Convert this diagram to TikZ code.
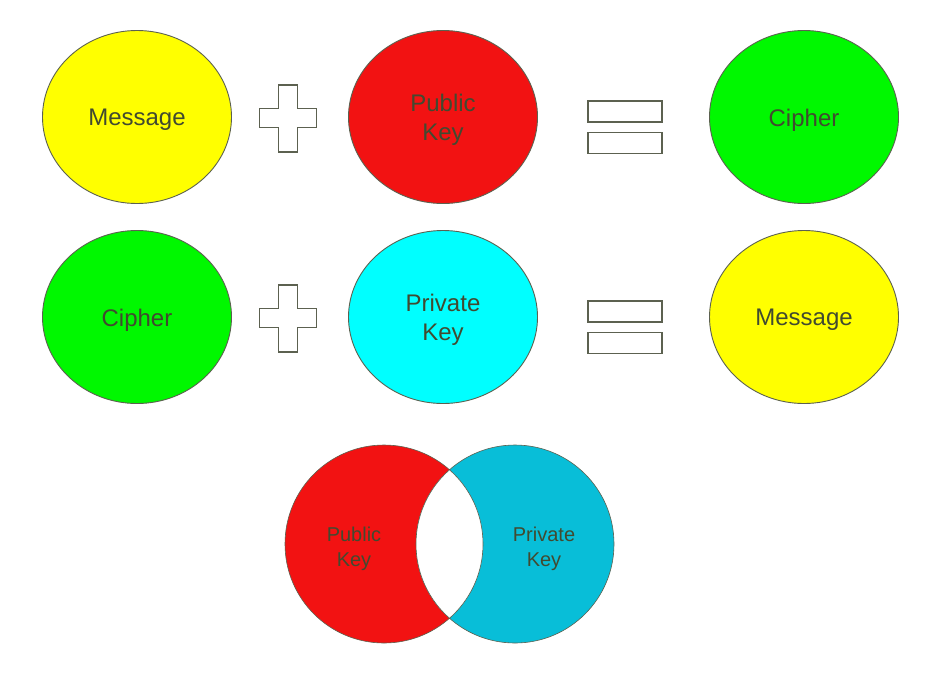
\documentclass[tikz,border=0pt]{standalone}
\usepackage{fontspec}
\setmainfont{Liberation Sans}
\usetikzlibrary{shapes.geometric}
\definecolor{msgyellow}{HTML}{FFFF00}
\definecolor{keyred}{HTML}{F21212}
\definecolor{ciphergreen}{HTML}{00F800}
\definecolor{keycyan}{HTML}{00FFFF}
\definecolor{keyblue}{HTML}{08BED8}
\definecolor{inkolive}{HTML}{414A30}
\definecolor{rimgray}{HTML}{5C6150}
\tikzset{disc/.style={draw=rimgray,ellipse,line width=0.9pt,minimum width=189pt,
    minimum height=173pt,inner sep=0pt},
  disctext/.style={text=inkolive,align=center,yshift=-3pt,
    font=\fontsize{24}{29}\selectfont},
  sign/.style={draw=rimgray,line width=1.2pt,fill=white},
  venn/.style={text=inkolive,align=center,font=\fontsize{20}{25}\selectfont}}

\begin{document}
\begin{tikzpicture}[x=1pt,y=-1pt]
  \useasboundingbox (0,0) rectangle (941,673);
  % row 1
  \node[disc,fill=msgyellow,label={[disctext]center:Message}] (M1) at (137,117) {};
  \node[disc,fill=keyred,label={[disctext]center:Public\\Key}] (P1) at (443,117) {};
  \node[disc,fill=ciphergreen,label={[disctext]center:Cipher}] (C1) at (804,117) {};
  % row 2
  \node[disc,fill=ciphergreen,label={[disctext]center:Cipher}] (C2) at (137,317) {};
  \node[disc,fill=keycyan,label={[disctext]center:Private\\Key}] (P2) at (443,317) {};
  \node[disc,fill=msgyellow,label={[disctext]center:Message}] (M2) at (804,317) {};

  % plus and equals signs
  \foreach \y in {118,318} {
    \draw[sign] (278.5,\y-33) -- (297.5,\y-33) -- (297.5,\y-9.5) -- (316.5,\y-9.5)
      -- (316.5,\y+9.5) -- (297.5,\y+9.5) -- (297.5,\y+34) -- (278.5,\y+34)
      -- (278.5,\y+9.5) -- (259.5,\y+9.5) -- (259.5,\y-9.5) -- (278.5,\y-9.5) -- cycle;
    \draw[sign] (588,\y-17) rectangle (662,\y+4);
    \draw[sign] (588,\y+14.5) rectangle (662,\y+35.5);
  }

  % key pair
  \coordinate (L) at (384,544);
  \coordinate (R) at (515,544);
  \fill[keyred] (L) circle[radius=99];
  \fill[keyblue] (R) circle[radius=99];
  \begin{scope}
    \clip (L) circle[radius=99];
    \fill[white] (R) circle[radius=99];
  \end{scope}
  \draw[rimgray,line width=0.6pt] (L) circle[radius=99] (R) circle[radius=99];
  \node[venn] (PK) at (354,549) {Public\\Key};
  \node[venn] (SK) at (544,549) {Private\\Key};
\end{tikzpicture}
\end{document}
